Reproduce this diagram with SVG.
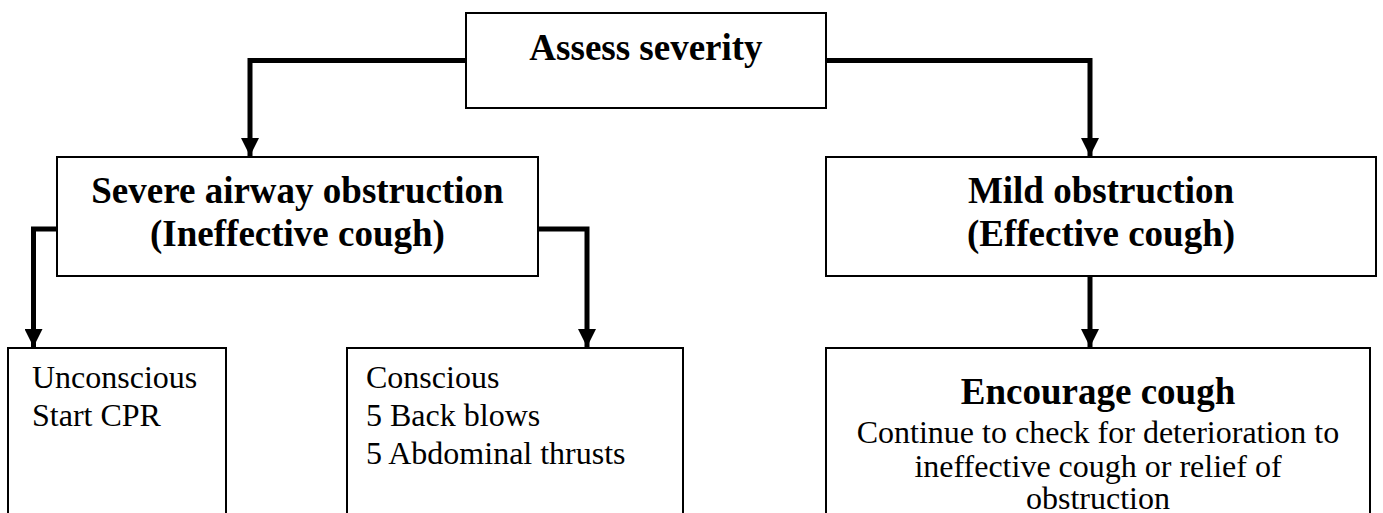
<svg xmlns="http://www.w3.org/2000/svg" width="1383" height="513" viewBox="0 0 1383 513">
  <style>
    .box { fill: #ffffff; stroke: #000000; stroke-width: 2; }
    .wire { fill: none; stroke: #000000; stroke-width: 5; stroke-linejoin: miter; }
    .head { fill: #000000; }
    .bold { font-family: "Liberation Serif", "Times New Roman", serif; font-weight: bold; font-size: 37px; fill: #000000; }
    .plain { font-family: "Liberation Serif", "Times New Roman", serif; font-size: 32px; fill: #000000; }
    .mid { text-anchor: middle; }
  </style>
  <defs>
    <marker id="arrow" markerUnits="userSpaceOnUse" markerWidth="18" markerHeight="18" viewBox="0 0 18 18" refX="18" refY="9" orient="auto">
      <path class="head" d="M0,0 L18,9 L0,18 Z"/>
    </marker>
  </defs>
  <rect width="1383" height="513" fill="#ffffff"/>

  <!-- connectors -->
  <g id="connectors">
    <path class="wire" d="M466,60.5 H250 V156" marker-end="url(#arrow)"/>
    <path class="wire" d="M826,60.5 H1090 V156" marker-end="url(#arrow)"/>
    <path class="wire" d="M57,229 H33.5 V347" marker-end="url(#arrow)"/>
    <path class="wire" d="M538,229 H587 V347" marker-end="url(#arrow)"/>
    <path class="wire" d="M1090,277 V347" marker-end="url(#arrow)"/>
  </g>

  <!-- nodes -->
  <g id="assess">
    <rect class="box" x="466" y="13" width="360" height="95"/>
    <text class="bold mid" x="646" y="60">Assess severity</text>
  </g>
  <g id="severe">
    <rect class="box" x="57" y="157" width="481" height="119"/>
    <text class="bold mid" x="297.5" y="203">Severe airway obstruction</text>
    <text class="bold mid" x="297.5" y="246">(Ineffective cough)</text>
  </g>
  <g id="mild">
    <rect class="box" x="826" y="157" width="550" height="119"/>
    <text class="bold mid" x="1101" y="203">Mild obstruction</text>
    <text class="bold mid" x="1101" y="246">(Effective cough)</text>
  </g>
  <g id="unconscious">
    <rect class="box" x="8" y="348" width="218" height="180"/>
    <text class="plain" x="32" y="388">Unconscious</text>
    <text class="plain" x="32" y="426">Start CPR</text>
  </g>
  <g id="conscious">
    <rect class="box" x="347" y="348" width="336" height="180"/>
    <text class="plain" x="366" y="388">Conscious</text>
    <text class="plain" x="366" y="426">5 Back blows</text>
    <text class="plain" x="366" y="464">5 Abdominal thrusts</text>
  </g>
  <g id="encourage">
    <rect class="box" x="826" y="348" width="544" height="180"/>
    <text class="bold mid" x="1098" y="404">Encourage cough</text>
    <text class="plain mid" x="1098" y="443">Continue to check for deterioration to</text>
    <text class="plain mid" x="1098" y="477">ineffective cough or relief of</text>
    <text class="plain mid" x="1098" y="509">obstruction</text>
  </g>
</svg>
